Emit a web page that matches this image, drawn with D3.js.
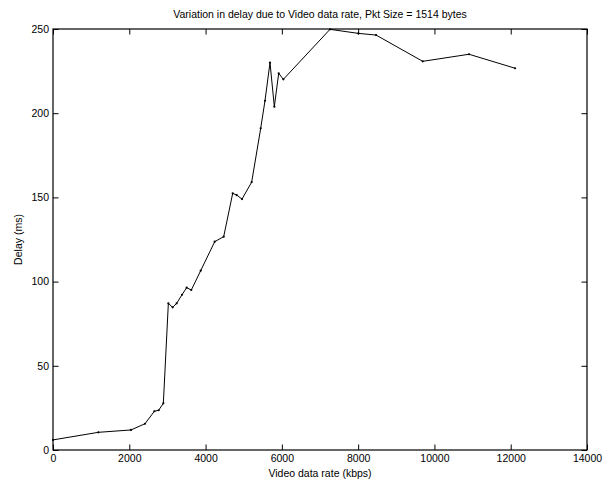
<!DOCTYPE html>
<html>
<head>
<meta charset="utf-8">
<script src="https://cdn.jsdelivr.net/npm/d3@7"></script>
<style>
  html, body { margin: 0; padding: 0; background: #fff; }
  svg { display: block; }
  text { font-family: "Liberation Sans", Arial, sans-serif; fill: #000; }
</style>
</head>
<body>
<script>
const rateKbps = [0, 1190, 2045, 2412, 2657, 2770, 2893, 3024, 3137, 3242, 3382, 3504, 3626, 3872, 4239, 4475, 4711, 4816, 4955, 5209, 5445, 5558, 5689, 5803, 5917, 6039, 7262, 8005, 8469, 9693, 10907, 12113];
const delayMs  = [6, 10.5, 11.9, 15.6, 23, 23.6, 27.7, 87.1, 84.7, 87.1, 92.2, 96.4, 95, 106.5, 123.7, 126.7, 152.4, 151.4, 149, 159.1, 191, 207.4, 230, 203.9, 223.7, 220.1, 249.8, 247.4, 246.4, 230.8, 235, 226.7];
const xTicks = [0, 2000, 4000, 6000, 8000, 10000, 12000, 14000];
const yTicks = [0, 50, 100, 150, 200, 250];
const titleText = "Variation in delay due to Video data rate, Pkt Size = 1514 bytes";
const xLabelText = "Video data rate (kbps)";
const yLabelText = "Delay (ms)";

const W = 603, H = 485;
const L = 53, R = 587, T = 29, B = 450;

const svg = d3.select("body").append("svg").attr("width", W).attr("height", H);

const x = d3.scaleLinear().domain([0, 14000]).range([L, R]);
const y = d3.scaleLinear().domain([0, 250]).range([B, T]);

const fs = 10.5;
const tl = 5.5;

// box
svg.append("rect").attr("x", L).attr("y", T).attr("width", R - L).attr("height", B - T)
  .attr("fill", "none").attr("stroke", "#000").attr("stroke-width", 1.2);

// axes with inward ticks
const xb = svg.append("g").attr("transform", `translate(0,${B})`)
  .call(d3.axisBottom(x).tickValues(xTicks).tickSizeInner(-tl).tickSizeOuter(0).tickPadding(8).tickFormat(d3.format("d")));
const xt = svg.append("g").attr("transform", `translate(0,${T})`)
  .call(d3.axisTop(x).tickValues(xTicks).tickSizeInner(-tl).tickSizeOuter(0).tickFormat(""));
const yl = svg.append("g").attr("transform", `translate(${L},0)`)
  .call(d3.axisLeft(y).tickValues(yTicks).tickSizeInner(-tl).tickSizeOuter(0).tickPadding(8).tickFormat(d3.format("d")));
const yr = svg.append("g").attr("transform", `translate(${R},0)`)
  .call(d3.axisRight(y).tickValues(yTicks).tickSizeInner(-tl).tickSizeOuter(0).tickFormat(""));

[xb, xt, yl, yr].forEach(g => {
  g.select(".domain").remove();
  g.selectAll(".tick line").attr("stroke", "#000").attr("stroke-width", 1);
  g.selectAll("text").attr("font-size", fs).attr("font-family", "Liberation Sans, Arial, sans-serif").attr("fill", "#000");
});
xb.selectAll("text").attr("dy", "0.71em").attr("y", 5);
yl.selectAll("text").attr("x", -4);

const data = rateKbps.map((r, i) => ({ r, d: delayMs[i] }));

svg.append("path").datum(data)
  .attr("fill", "none").attr("stroke", "#000").attr("stroke-width", 1)
  .attr("d", d3.line().x(p => x(p.r)).y(p => y(p.d)));

svg.append("g").selectAll("circle").data(data).join("circle")
  .attr("cx", p => x(p.r)).attr("cy", p => y(p.d)).attr("r", 1.1).attr("fill", "#000");

svg.append("text").attr("x", (L + R) / 2).attr("y", 18).attr("text-anchor", "middle")
  .attr("font-size", fs).text(titleText);
svg.append("text").attr("x", (L + R) / 2).attr("y", 477).attr("text-anchor", "middle")
  .attr("font-size", fs).text(xLabelText);
svg.append("text").attr("transform", `translate(22,${(T + B) / 2}) rotate(-90)`).attr("text-anchor", "middle")
  .attr("font-size", fs).text(yLabelText);
</script>
</body>
</html>
